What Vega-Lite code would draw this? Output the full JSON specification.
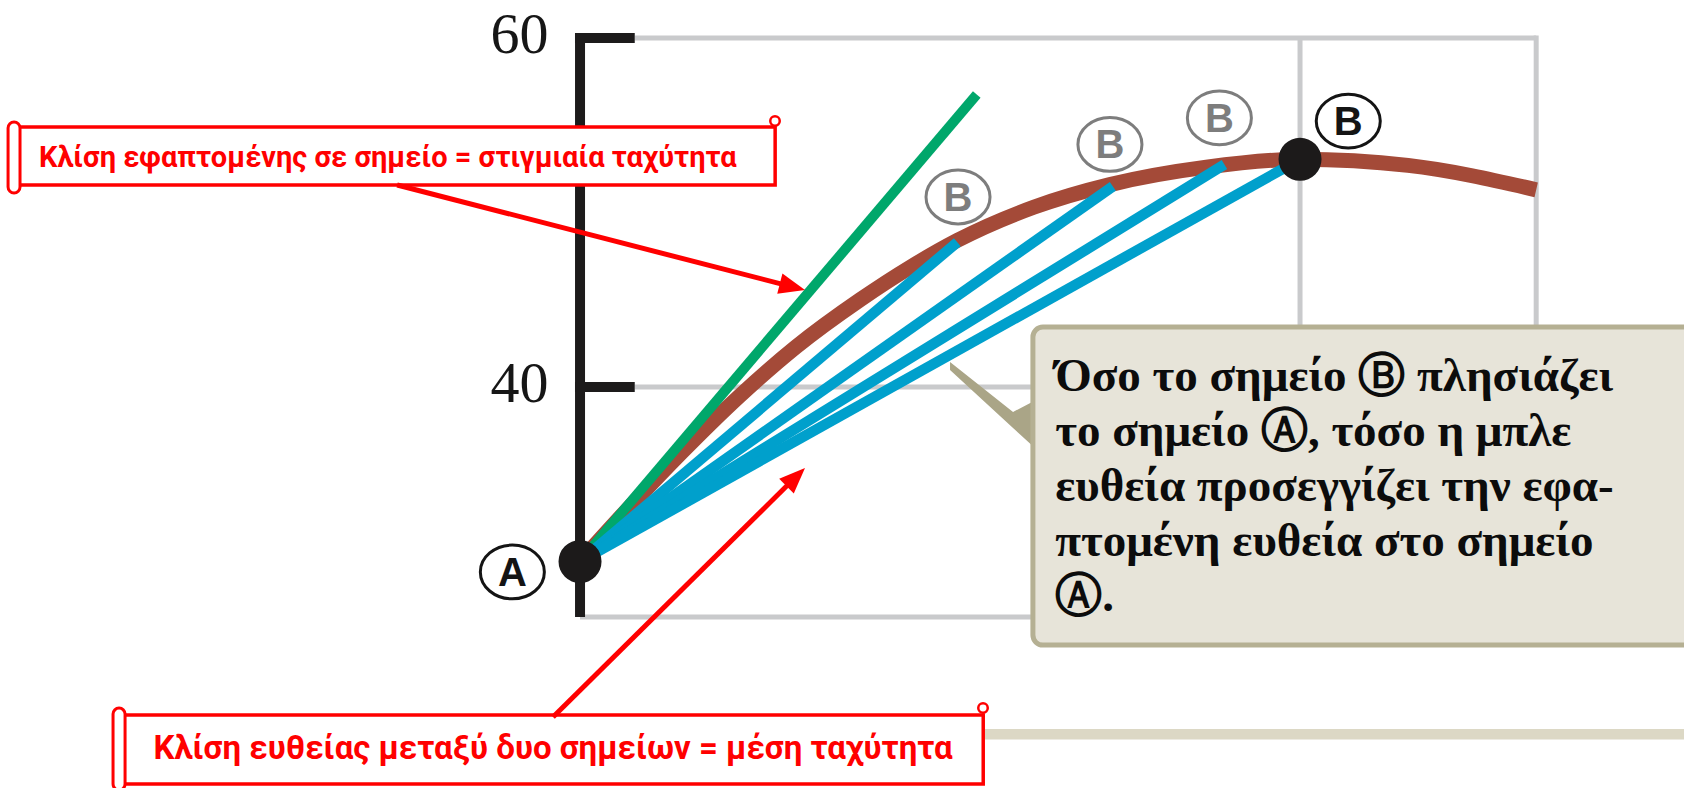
{
  "$schema": "https://vega.github.io/schema/vega-lite/v6.json",
  "autosize": {"type": "none"},
  "width": 1684,
  "height": 788,
  "padding": 0,
  "background": "white",
  "config": {"view": {"stroke": null}},
  "datasets": {
    "grid": [
      {"t": 0.76, "m": 60, "t2": 13.28, "m2": 60},
      {"t": 0.76, "m": 40, "t2": 13.28, "m2": 40},
      {"t": 0, "m": 26.82, "t2": 13.28, "m2": 26.82},
      {"t": 10, "m": 60, "t2": 10, "m2": 26.82},
      {"t": 13.28, "m": 60.14, "t2": 13.28, "m2": 26.82}
    ],
    "axisLines": [
      {"t": 0, "m": 60.29, "t2": 0, "m2": 26.82},
      {"t": -0.07, "m": 60, "t2": 0.76, "m2": 60},
      {"t": -0.07, "m": 40, "t2": 0.76, "m2": 40}
    ],
    "position": [
      {"t": 0, "m": 30},
      {"t": 0.65, "m": 32.95},
      {"t": 1.4, "m": 36.2},
      {"t": 2.22, "m": 39.5},
      {"t": 3.0, "m": 42.3},
      {"t": 3.89, "m": 45.0},
      {"t": 4.6, "m": 46.9},
      {"t": 5.24, "m": 48.4},
      {"t": 6.3, "m": 50.3},
      {"t": 7.36, "m": 51.6},
      {"t": 8.7, "m": 52.6},
      {"t": 10, "m": 53.05},
      {"t": 11.5, "m": 52.7},
      {"t": 13.28, "m": 51.3}
    ],
    "tangent": [
      {"t": 0, "m": 30},
      {"t": 5.51, "m": 56.76}
    ],
    "secants": [
      {"seg": 1, "t": 0, "m": 30}, {"seg": 1, "t": 5.24, "m": 48.3},
      {"seg": 2, "t": 0, "m": 30}, {"seg": 2, "t": 7.4, "m": 51.5},
      {"seg": 3, "t": 0, "m": 30}, {"seg": 3, "t": 8.95, "m": 52.75},
      {"seg": 4, "t": 0, "m": 30}, {"seg": 4, "t": 10, "m": 53.05}
    ],
    "endpoints": [
      {"name": "A", "t": 0, "m": 30},
      {"name": "B", "t": 10, "m": 53.05}
    ],
    "pointLabels": [
      {"letter": "B", "tone": "earlier", "t": 5.25, "m": 50.89},
      {"letter": "B", "tone": "earlier", "t": 7.36, "m": 53.9},
      {"letter": "B", "tone": "earlier", "t": 8.88, "m": 55.42},
      {"letter": "B", "tone": "final", "t": 10.67, "m": 55.24},
      {"letter": "A", "tone": "final", "t": -0.94, "m": 29.4}
    ],
    "pointer": [
      {"t": 5.139, "m": 41.43, "m2": 40.97},
      {"t": 6.014, "m": 38.57, "m2": 37.65},
      {"t": 6.333, "m": 39.26, "m2": 36.45}
    ],
    "calloutBox": [
      {"t": 6.29, "m": 43.44, "t2": 15.8, "m2": 25.21}
    ],
    "calloutText": [
      {"t": 6.6, "m": 39.75, "lines": [
        "Όσο το σημείο Ⓑ πλησιάζει",
        "το σημείο Ⓐ, τόσο η μπλε",
        "ευθεία προσεγγίζει την εφα-",
        "πτομένη ευθεία στο σημείο",
        "Ⓐ."
      ]}
    ],
    "strip": [
      {"t": -0.9, "m": 20.4, "t2": 15.8, "m2": 19.8}
    ],
    "notes": [
      {"note": "tangent", "t": -7.83, "m": 54.9, "t2": 2.71, "m2": 51.58, "ct": -2.67, "cm": 53.12,
       "rt": -7.944, "rt2": -7.778, "rm": 55.19, "rm2": 51.12, "kt": 2.708, "km": 55.24,
       "text": "Κλίση εφαπτομένης σε σημείο = στιγμιαία ταχύτητα"},
      {"note": "secant", "t": -6.36, "m": 21.2, "t2": 5.6, "m2": 17.25, "ct": -0.375, "cm": 19.25,
       "rt": -6.486, "rt2": -6.319, "rm": 21.6, "rm2": 16.9, "kt": 5.597, "km": 21.6,
       "text": "Κλίση ευθείας μεταξύ δυο σημείων = μέση ταχύτητα"}
    ],
    "arrows": [
      {"note": "tangent", "t": -2.54, "m": 51.58},
      {"note": "tangent", "t": 2.95, "m": 45.74},
      {"note": "secant", "t": -0.375, "m": 21.09},
      {"note": "secant", "t": 2.996, "m": 34.84}
    ]
  },
  "encoding": {
    "x": {"field": "t", "type": "quantitative", "axis": null,
          "scale": {"domain": [-8.056, 15.333], "nice": false, "zero": false}},
    "y": {"field": "m", "type": "quantitative",
          "scale": {"domain": [17.02, 62.18], "nice": false, "zero": false},
          "axis": {"values": [40, 60], "offset": -580, "domain": false, "ticks": false, "tickSize": 0,
                   "grid": false, "title": null, "labelPadding": 32, "labelOffset": -3,
                   "labelFont": "Liberation Serif", "labelFontSize": 58, "labelColor": "#161616"}}
  },
  "layer": [
    {
      "data": {"name": "grid"},
      "mark": {"type": "rule", "color": "#c9cacc", "strokeWidth": 5},
      "encoding": {"x2": {"field": "t2"}, "y2": {"field": "m2"}}
    },
    {
      "data": {"name": "axisLines"},
      "mark": {"type": "rule", "color": "#1d1b1b", "strokeWidth": 10},
      "encoding": {"x2": {"field": "t2"}, "y2": {"field": "m2"}}
    },
    {
      "data": {"name": "position"},
      "mark": {"type": "line", "color": "#a44a38", "strokeWidth": 15, "interpolate": "monotone"},
      "encoding": {}
    },
    {
      "data": {"name": "tangent"},
      "mark": {"type": "line", "color": "#00a76b", "strokeWidth": 10},
      "encoding": {}
    },
    {
      "data": {"name": "secants"},
      "mark": {"type": "line", "color": "#00a0cc", "strokeWidth": 10.5},
      "encoding": {"detail": {"field": "seg", "type": "nominal"}}
    },
    {
      "data": {"name": "endpoints"},
      "mark": {"type": "point", "shape": "circle", "filled": true, "color": "#1c1a1a", "opacity": 1, "size": 1850},
      "encoding": {}
    },
    {
      "data": {"name": "pointLabels"},
      "mark": {"type": "point", "shape": "M -1 0 A 1 0.84 0 1 1 1 0 A 1 0.84 0 1 1 -1 0 Z",
               "filled": false, "size": 4100, "strokeWidth": 3, "opacity": 1},
      "encoding": {
        "color": {"field": "tone", "type": "nominal", "legend": null,
                  "scale": {"domain": ["earlier", "final"], "range": ["#7d7d7d", "#141414"]}}
      }
    },
    {
      "data": {"name": "pointLabels"},
      "mark": {"type": "text", "font": "Liberation Sans", "fontWeight": "bold", "fontSize": 40, "baseline": "middle", "align": "center", "dy": 2},
      "encoding": {
        "text": {"field": "letter"},
        "color": {"field": "tone", "type": "nominal", "legend": null,
                  "scale": {"domain": ["earlier", "final"], "range": ["#7d7d7d", "#141414"]}}
      }
    },
    {
      "data": {"name": "pointer"},
      "mark": {"type": "area", "orient": "vertical", "color": "#aaa587", "opacity": 1},
      "encoding": {"y2": {"field": "m2"}}
    },
    {
      "data": {"name": "calloutBox"},
      "mark": {"type": "rect", "fill": "#e7e4d9", "stroke": "#b5b093", "strokeWidth": 5, "cornerRadius": 10},
      "encoding": {"x2": {"field": "t2"}, "y2": {"field": "m2"}}
    },
    {
      "data": {"name": "calloutText"},
      "mark": {"type": "text", "font": "Liberation Serif", "fontWeight": "bold", "fontSize": 47,
               "lineHeight": 55, "align": "left", "baseline": "alphabetic", "color": "#0c0c0c"},
      "encoding": {"text": {"field": "lines"}}
    },
    {
      "data": {"name": "strip"},
      "mark": {"type": "rect", "fill": "#dcd8c5"},
      "encoding": {"x2": {"field": "t2"}, "y2": {"field": "m2"}}
    },
    {
      "data": {"name": "notes"},
      "mark": {"type": "rect", "fill": "white", "stroke": "#ff0000", "strokeWidth": 3.5},
      "encoding": {"x2": {"field": "t2"}, "y2": {"field": "m2"}}
    },
    {
      "data": {"name": "notes"},
      "mark": {"type": "rect", "fill": "white", "stroke": "#ff0000", "strokeWidth": 3, "cornerRadius": 6},
      "encoding": {"x": {"field": "rt", "type": "quantitative"}, "x2": {"field": "rt2"},
                   "y": {"field": "rm", "type": "quantitative"}, "y2": {"field": "rm2"}}
    },
    {
      "data": {"name": "notes"},
      "mark": {"type": "point", "shape": "circle", "filled": false, "stroke": "#ff0000", "strokeWidth": 2.5, "size": 90, "opacity": 1},
      "encoding": {"x": {"field": "kt", "type": "quantitative"}, "y": {"field": "km", "type": "quantitative"}}
    },
    {
      "data": {"name": "notes"},
      "transform": [{"filter": "datum.note === 'tangent'"}],
      "mark": {"type": "text", "font": "Roboto", "fontWeight": "bold", "fontSize": 29, "color": "#ff0000",
               "align": "center", "baseline": "middle"},
      "encoding": {"x": {"field": "ct", "type": "quantitative"}, "y": {"field": "cm", "type": "quantitative"},
                   "text": {"field": "text"}}
    },
    {
      "data": {"name": "notes"},
      "transform": [{"filter": "datum.note === 'secant'"}],
      "mark": {"type": "text", "font": "Roboto", "fontWeight": "bold", "fontSize": 33, "color": "#ff0000",
               "align": "center", "baseline": "middle"},
      "encoding": {"x": {"field": "ct", "type": "quantitative"}, "y": {"field": "cm", "type": "quantitative"},
                   "text": {"field": "text"}}
    },
    {
      "data": {"name": "arrows"},
      "mark": {"type": "line", "color": "#ff0000", "strokeWidth": 5},
      "encoding": {"detail": {"field": "note", "type": "nominal"}}
    },
    {
      "data": {"name": "arrows"},
      "transform": [{"filter": "datum.note === 'tangent'"}, {"window": [{"op": "row_number", "as": "k"}]}, {"filter": "datum.k === 2"}],
      "mark": {"type": "point", "shape": "M 1 0 L -1 -0.8 L -1 0.8 Z", "filled": true, "color": "#ff0000",
               "opacity": 1, "size": 676, "angle": 14.4},
      "encoding": {}
    },
    {
      "data": {"name": "arrows"},
      "transform": [{"filter": "datum.note === 'secant'"}, {"window": [{"op": "row_number", "as": "k"}]}, {"filter": "datum.k === 2"}],
      "mark": {"type": "point", "shape": "M 1 0 L -1 -0.8 L -1 0.8 Z", "filled": true, "color": "#ff0000",
               "opacity": 1, "size": 676, "angle": -44.6},
      "encoding": {}
    }
  ]
}
